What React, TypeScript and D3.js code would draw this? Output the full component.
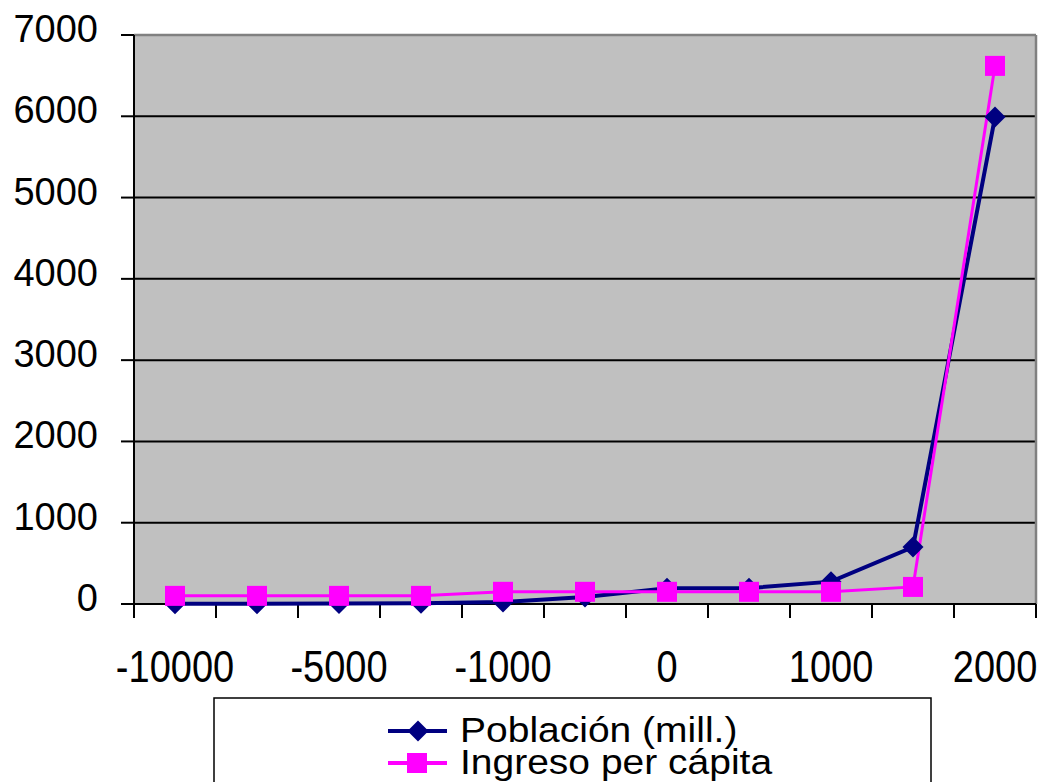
import React from "react";
import * as d3 from "d3";

const categories = ["-10000", "-8000", "-5000", "-3000", "-1000", "-500", "0", "500", "1000", "1500", "2000"];
const shownLabels = ["-10000", "-5000", "-1000", "0", "1000", "2000"];
const poblacion = [2, 4, 5, 10, 25, 85, 195, 195, 275, 700, 5990];
const ingreso = [100, 100, 100, 100, 150, 150, 150, 150, 150, 210, 6620];
const yTicks = [0, 1000, 2000, 3000, 4000, 5000, 6000, 7000];
const seriesNames = ["Población (mill.)", "Ingreso per cápita"];

export default function App() {
  const left = 134, right = 1036, top = 35, bottom = 604;
  const x = d3.scaleBand<string>().domain(categories).range([left, right]).paddingInner(0).paddingOuter(0);
  const y = d3.scaleLinear().domain([0, 7000]).range([bottom, top]);
  const cx = (c: string) => (x(c) as number) + x.bandwidth() / 2;
  const line = d3.line<number>().x((_, i) => cx(categories[i])).y((v) => y(v));
  const boundaries = categories.map((c) => x(c) as number).concat([right]);
  const font = "'Liberation Sans', Arial, sans-serif";
  const diamond = (px: number, py: number, r: number) =>
    `M${px},${py - r}L${px + r},${py}L${px},${py + r}L${px - r},${py}Z`;

  return (
    <svg width={1042} height={782} style={{ position: "absolute", left: 0, top: 0, background: "#fff" }} fontFamily={font}>
      <rect x={left} y={top} width={right - left} height={bottom - top} fill="#c0c0c0" />
      {yTicks.filter((t) => t > 0 && t < 7000).map((t) => (
        <line key={t} x1={left} x2={right} y1={y(t)} y2={y(t)} stroke="#000" strokeWidth={2} />
      ))}
      <line x1={left} x2={right} y1={top} y2={top} stroke="#808080" strokeWidth={2.5} />
      <line x1={right} x2={right} y1={top} y2={bottom} stroke="#808080" strokeWidth={2.5} />
      <line x1={left} x2={left} y1={top} y2={bottom} stroke="#000" strokeWidth={2} />
      <line x1={left} x2={right} y1={bottom} y2={bottom} stroke="#000" strokeWidth={2} />
      {yTicks.map((t) => (
        <g key={t}>
          <line x1={121} x2={left} y1={y(t)} y2={y(t)} stroke="#000" strokeWidth={2} />
          <text x={98} y={y(t) + 7} textAnchor="end" fontSize={38} fill="#000">{t}</text>
        </g>
      ))}
      {boundaries.map((b, i) => (
        <line key={i} x1={b} x2={b} y1={bottom} y2={618} stroke="#000" strokeWidth={2} />
      ))}
      {shownLabels.map((c) => (
        <text key={c} transform={`translate(${cx(c)},682) scale(1,1.15)`} textAnchor="middle" fontSize={38} fill="#000">{c}</text>
      ))}
      <path d={line(poblacion) as string} fill="none" stroke="#000080" strokeWidth={4} />
      <path d={line(ingreso) as string} fill="none" stroke="#ff00ff" strokeWidth={3} />
      {poblacion.map((v, i) => (
        <path key={i} d={diamond(cx(categories[i]), y(v), 10.5)} fill="#000080" />
      ))}
      {ingreso.map((v, i) => (
        <rect key={i} x={cx(categories[i]) - 10} y={y(v) - 10} width={20} height={20} fill="#ff00ff" />
      ))}
      <rect x={214} y={698} width={717} height={100} fill="#fff" stroke="#000" strokeWidth={1.5} />
      <line x1={388} x2={447} y1={731} y2={731} stroke="#000080" strokeWidth={4} />
      <path d={diamond(418, 731, 10.5)} fill="#000080" />
      <line x1={388} x2={447} y1={763} y2={763} stroke="#ff00ff" strokeWidth={4} />
      <rect x={407} y={753} width={20} height={20} fill="#ff00ff" />
      <text transform="translate(460,742) scale(1,0.9)" fontSize={39} fill="#000">{seriesNames[0]}</text>
      <text transform="translate(460,774) scale(1,0.9)" fontSize={39} fill="#000">{seriesNames[1]}</text>
    </svg>
  );
}
